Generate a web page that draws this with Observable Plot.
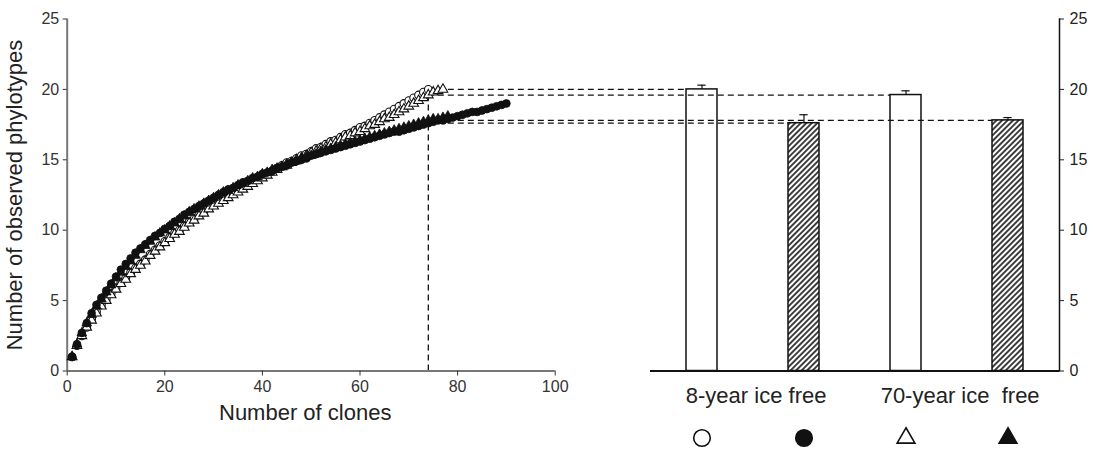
<!DOCTYPE html>
<html>
<head>
<meta charset="utf-8">
<script src="https://cdn.jsdelivr.net/npm/d3@7"></script>
<script src="https://cdn.jsdelivr.net/npm/@observablehq/plot@0.6"></script>
<style>
  html, body { margin: 0; padding: 0; background: #fff; }
  #chart { position: relative; width: 1093px; height: 469px; }
  #chart svg { position: absolute; left: 0; top: 0; }
</style>
</head>
<body>
<div id="chart"></div>
<script>
// Rarefaction curves: observed phylotypes after 1, 2, 3 ... clones
const openCircles8yr = [
  1.0, 1.8, 2.5, 3.1, 3.7, 4.2, 4.7, 5.1, 5.5, 5.9,
  6.3, 6.6, 7.0, 7.3, 7.6, 7.9, 8.3, 8.6, 8.9, 9.2,
  9.5, 9.8, 10.0, 10.3, 10.6, 10.8, 11.1, 11.3, 11.6, 11.8,
  12.0, 12.2, 12.5, 12.7, 12.9, 13.1, 13.3, 13.5, 13.7, 13.9,
  14.0, 14.2, 14.4, 14.6, 14.8, 14.9, 15.1, 15.3, 15.4, 15.6,
  15.8, 15.9, 16.1, 16.3, 16.4, 16.6, 16.8, 16.9, 17.1, 17.3,
  17.4, 17.6, 17.8, 18.0, 18.2, 18.4, 18.6, 18.8, 19.0, 19.2,
  19.4, 19.6, 19.8, 20.0
];
const filledCircles8yr = [
  1.0, 1.9, 2.7, 3.4, 4.1, 4.7, 5.2, 5.7, 6.2, 6.7,
  7.2, 7.6, 8.0, 8.4, 8.7, 9.0, 9.3, 9.6, 9.8, 10.1,
  10.3, 10.6, 10.8, 11.1, 11.3, 11.5, 11.7, 11.9, 12.1, 12.3,
  12.5, 12.7, 12.9, 13.0, 13.2, 13.4, 13.5, 13.7, 13.8, 14.0,
  14.1, 14.2, 14.4, 14.5, 14.6, 14.8, 14.9, 15.0, 15.1, 15.3,
  15.4, 15.5, 15.6, 15.7, 15.8, 15.9, 16.0, 16.1, 16.2, 16.3,
  16.4, 16.5, 16.6, 16.7, 16.8, 16.9, 17.0, 17.0, 17.1, 17.2,
  17.3, 17.4, 17.5, 17.6, 17.7, 17.8, 17.8, 17.9, 18.0, 18.1,
  18.2, 18.3, 18.4, 18.4, 18.5, 18.6, 18.7, 18.8, 18.9, 19.0
];
const openTriangles70yr = [
  1.0, 1.8, 2.5, 3.1, 3.6, 4.1, 4.6, 5.0, 5.4, 5.8,
  6.2, 6.5, 6.9, 7.2, 7.5, 7.8, 8.2, 8.5, 8.8, 9.1,
  9.4, 9.7, 9.9, 10.2, 10.5, 10.7, 11.0, 11.2, 11.5, 11.7,
  11.9, 12.1, 12.3, 12.5, 12.7, 12.9, 13.1, 13.3, 13.5, 13.7,
  13.9, 14.1, 14.3, 14.5, 14.6, 14.8, 15.0, 15.1, 15.3, 15.5,
  15.6, 15.8, 15.9, 16.1, 16.2, 16.4, 16.6, 16.7, 16.9, 17.0,
  17.2, 17.4, 17.5, 17.7, 17.9, 18.0, 18.2, 18.4, 18.6, 18.8,
  19.0, 19.2, 19.4, 19.6, 19.8, 19.9, 20.0
];
const filledTriangles70yr = [
  1.0, 1.9, 2.7, 3.4, 4.0, 4.6, 5.1, 5.6, 6.1, 6.6,
  7.0, 7.4, 7.8, 8.2, 8.6, 8.9, 9.2, 9.5, 9.8, 10.0,
  10.3, 10.5, 10.8, 11.0, 11.3, 11.5, 11.7, 11.9, 12.1, 12.3,
  12.5, 12.7, 12.8, 13.0, 13.2, 13.3, 13.5, 13.7, 13.8, 14.0,
  14.1, 14.3, 14.4, 14.5, 14.7, 14.8, 14.9, 15.1, 15.2, 15.3,
  15.4, 15.6, 15.7, 15.8, 15.9, 16.0, 16.1, 16.2, 16.3, 16.4,
  16.5, 16.6, 16.7, 16.8, 16.9, 17.0, 17.1, 17.2, 17.3, 17.4,
  17.5, 17.6, 17.7, 17.8, 17.9, 17.9, 18.0, 18.1
];

// Number of clones every library is compared at
const rarefyAt = 74;

// Axis ticks
const xTicks = [0, 20, 40, 60, 80, 100];
const yTicks = [0, 5, 10, 15, 20, 25];

// Bars: phylotypes expected at the common sample size, with upper error
const barCats = ["8-year open", "8-year filled", "70-year open", "70-year filled"];
const barValues = [20.0, 17.6, 19.6, 17.8];
const barErrors = [0.3, 0.6, 0.3, 0.2];
const barHatched = [false, true, false, true];
const barSymbols = ["circle", "circle", "triangle", "triangle"];

// Group captions under the bar panel
const groupLabels = ["8-year ice free", "70-year ice\u00a0 free"];
const groupFirstBar = ["8-year open", "70-year open"];

// ---- layout ----
const W = 1093, H = 469;
const padTop = 18.5, padBottom = 98.5;
const leftL = 66.7, leftR = 554.7;
const rightL = 650, rightR = 1059;
const ink = "#111";
const font = '"Liberation Sans", Arial, Helvetica, sans-serif';
const baseStyle = {
  background: "transparent",
  overflow: "visible",
  fontFamily: font,
  fontSize: "16px",
  color: "#222"
};

const curve = (values) => values.map((v, i) => ({clones: i + 1, phylotypes: v}));
const series = [
  {data: curve(openCircles8yr), symbol: "circle", filled: false},
  {data: curve(openTriangles70yr), symbol: "triangle", filled: false},
  {data: curve(filledCircles8yr), symbol: "circle", filled: true},
  {data: curve(filledTriangles70yr), symbol: "triangle", filled: true}
];

const bars = barCats.map((c, i) => ({
  cat: c,
  value: barValues[i],
  hi: barValues[i] + barErrors[i],
  hatched: barHatched[i],
  symbol: barSymbols[i],
  filled: barHatched[i]
}));
const groups = groupLabels.map((label, i) => ({cat: groupFirstBar[i], label}));

const paddingInner = 0.7, paddingOuter = 0.35;
const band = d3.scaleBand(barCats, [rightL, rightR]).paddingInner(paddingInner).paddingOuter(paddingOuter);
const capInset = (band.bandwidth() - 8) / 2;

// ---- right panel: bars ----
const right = Plot.plot({
  width: W, height: H,
  marginLeft: rightL, marginRight: W - rightR, marginTop: padTop, marginBottom: padBottom,
  x: {type: "band", domain: barCats, paddingInner, paddingOuter},
  y: {domain: [0, 25]},
  style: baseStyle,
  marks: [
    Plot.barY(bars.filter(d => !d.hatched), {x: "cat", y: "value", fill: "white", stroke: ink, strokeWidth: 1.5}),
    Plot.barY(bars.filter(d => d.hatched), {x: "cat", y: "value", fill: "url(#hatch)", stroke: ink, strokeWidth: 1.5}),
    Plot.ruleX(bars, {x: "cat", y1: "value", y2: "hi", stroke: ink, strokeWidth: 1.2}),
    Plot.tickY(bars, {x: "cat", y: "hi", insetLeft: capInset, insetRight: capInset, stroke: ink, strokeWidth: 1.2}),
    Plot.ruleY([0], {stroke: ink, strokeWidth: 2}),
    Plot.frame({anchor: "right", stroke: ink, strokeWidth: 1.5}),
    Plot.axisY({anchor: "right", ticks: yTicks, tickSize: 4, tickPadding: 6, label: null, color: "#222"}),
    Plot.axisX({ticks: [], label: null}),
    Plot.text(groups, {x: "cat", text: "label", frameAnchor: "bottom", dy: 31.5, dx: band.step() / 2 + 3, fontSize: 22, fill: "#222"}),
    ...bars.map(d => Plot.dot([d], {
      x: "cat", frameAnchor: "bottom", dy: 67,
      symbol: d.symbol,
      r: d.symbol === "circle" ? 8.3 : 6.6,
      fill: d.filled ? ink : "white",
      stroke: ink, strokeWidth: 1.6
    }))
  ]
});

// diagonal hatching for the closed-symbol bars
const ns = "http://www.w3.org/2000/svg";
const defs = document.createElementNS(ns, "defs");
const pat = document.createElementNS(ns, "pattern");
pat.setAttribute("id", "hatch");
pat.setAttribute("patternUnits", "userSpaceOnUse");
pat.setAttribute("width", "3.9");
pat.setAttribute("height", "3.9");
pat.setAttribute("patternTransform", "rotate(45)");
const bg = document.createElementNS(ns, "rect");
bg.setAttribute("width", "3.9"); bg.setAttribute("height", "3.9"); bg.setAttribute("fill", "white");
const hl = document.createElementNS(ns, "line");
hl.setAttribute("x1", "1.95"); hl.setAttribute("y1", "0");
hl.setAttribute("x2", "1.95"); hl.setAttribute("y2", "3.9");
hl.setAttribute("stroke", "#000"); hl.setAttribute("stroke-width", "1.5");
pat.appendChild(bg); pat.appendChild(hl); defs.appendChild(pat);
right.insertBefore(defs, right.firstChild);

// ---- left panel: rarefaction curves ----
const xs = right.scale("x");
const barStart = (c) => (xs && typeof xs.apply === "function") ? xs.apply(c) : band(c);
const lx = d3.scaleLinear([0, 100], [leftL, leftR]);
const guides = bars.map(d => ({y: d.value, x1: rarefyAt, x2: lx.invert(barStart(d.cat))}));

const dash = {stroke: "#111", strokeWidth: 1.3, strokeDasharray: "6,4"};

const left = Plot.plot({
  width: W, height: H,
  marginLeft: leftL, marginRight: W - leftR, marginTop: padTop, marginBottom: padBottom,
  x: {domain: [0, 100]},
  y: {domain: [0, 25]},
  style: baseStyle,
  marks: [
    Plot.ruleY(guides, {y: "y", x1: "x1", x2: "x2", ...dash}),
    Plot.ruleX([rarefyAt], {y1: 0, y2: d3.max(barValues), ...dash}),
    Plot.ruleX([0], {stroke: "#777", strokeWidth: 2}),
    Plot.ruleY([0], {stroke: "#777", strokeWidth: 2}),
    Plot.axisX({ticks: xTicks, tickSize: 5, tickPadding: 5, label: null, color: "#333"}),
    Plot.axisY({ticks: yTicks, tickSize: 4, tickPadding: 4, label: null, color: "#333"}),
    ...series.map(s => Plot.dot(s.data, {
      x: "clones", y: "phylotypes",
      symbol: s.symbol,
      r: s.symbol === "circle" ? 3.9 : 3.6,
      fill: s.filled ? ink : "white",
      stroke: ink,
      strokeWidth: s.filled ? 0.8 : 1.1
    })),
    Plot.text(["Number of clones"], {frameAnchor: "bottom", dy: 48.5, dx: -6, fontSize: 22, fill: "#222"}),
    Plot.text(["Number of observed phylotypes"], {frameAnchor: "left", textAnchor: "middle", rotate: -90, dx: -52, fontSize: 22, fill: "#222"})
  ]
});

const chart = document.getElementById("chart");
chart.appendChild(right);
chart.appendChild(left);
</script>
</body>
</html>
